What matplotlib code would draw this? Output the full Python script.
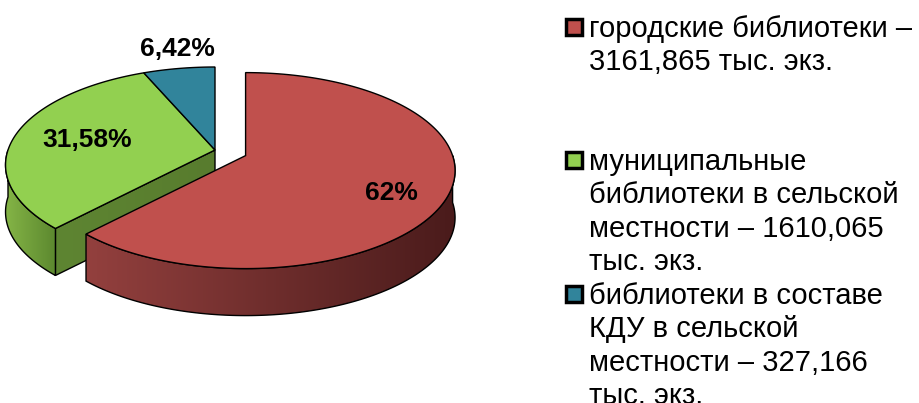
import matplotlib
matplotlib.use('Agg')
import matplotlib.pyplot as plt
from matplotlib.patches import Polygon, Rectangle
import numpy as np

# данные
labels = ['городские библиотеки –\n3161,865 тыс. экз.',
          'муниципальные\nбиблиотеки в сельской\nместности – 1610,065\nтыс. экз.',
          'библиотеки в составе\nКДУ в сельской\nместности – 327,166\nтыс. экз.']
values = [3161.865, 1610.065, 327.166]
pct_labels = ['62%', '31,58%', '6,42%']
top_colors = ['#c0504d', '#92d050', '#31849b']

plt.rcParams['font.family'] = ['Liberation Sans', 'DejaVu Sans']

W, H = 920, 403
fig = plt.figure(figsize=(W / 100, H / 100), dpi=100)
ax = fig.add_axes([0, 0, 1, 1])
ax.set_xlim(0, W)
ax.set_ylim(H, 0)
ax.axis('off')

# геометрия псевдо-3D круга (в пикселях), с лёгкой перспективой
CX, CY = 215, 150
RX, RY = 207, 95.7
PERSP = 0.153
DEPTH = 47
EXPLODE = 0.15

frac = np.array(values) / sum(values)
bounds = [90.0]
for f in frac:
    bounds.append(bounds[-1] - 360 * f)
# угловые интервалы (t_low, t_high) для каждого сектора
spans = [(bounds[i + 1], bounds[i]) for i in range(3)]


def proj(t_deg, r=1.0):
    t = np.radians(t_deg)
    s = -np.sin(t)
    d = 1 - PERSP * s
    return r * RX * np.cos(t) / d, r * RY * s / d


def arc(cx, cy, t1, t2, dy=0, n=150):
    t = np.linspace(t1, t2, n)
    x, y = proj(t)
    return np.column_stack([cx + x, cy + y + dy])


def visible(t1, t2):
    # пересечение с передней половиной [-180, 0] (с учётом сдвигов на 360)
    for k in (-720, -360, 0, 360):
        a, b = max(t1, -180 + k), min(t2, 0 + k)
        if b > a:
            return a, b
    return None


def gradient_fill(poly_xy, c_left, c_right, zorder):
    patch = Polygon(poly_xy, closed=True, facecolor='none', edgecolor='black', lw=1, zorder=zorder + 0.1)
    ax.add_patch(patch)
    x0, x1 = poly_xy[:, 0].min(), poly_xy[:, 0].max()
    y0, y1 = poly_xy[:, 1].min(), poly_xy[:, 1].max()
    c1 = np.array(matplotlib.colors.to_rgb(c_left))
    c2 = np.array(matplotlib.colors.to_rgb(c_right))
    s = np.linspace(0, 1, 256)[None, :, None]
    img = c1 * (1 - s) + c2 * s
    im = ax.imshow(img, extent=(x0, x1, y1, y0), aspect='auto', zorder=zorder, interpolation='bilinear')
    im.set_clip_path(patch)
    ax.set_xlim(0, W)
    ax.set_ylim(H, 0)


side_cols = [('#93403e', '#4a1b1b'), ('#84b446', '#5c882f'), ('#2a6f83', '#1d4f5d')]

# центр каждого сектора (выдвинут только первый)
centers = []
for i, (lo, hi) in enumerate(spans):
    if i == 0:
        dx, dy = proj((lo + hi) / 2, EXPLODE)
        centers.append((CX + dx, CY + dy))
    else:
        centers.append((CX, CY))

# задняя группа: зелёный + синий
z = 1
lo_g = spans[1][1]  # граница с красным сектором
p = arc(CX, CY, lo_g, lo_g, n=1)[0]
face = np.array([[CX, CY], p, p + [0, DEPTH], [CX, CY + DEPTH]])
gradient_fill(face, '#5e8532', '#587c2e', z)
for i in (1, 2):
    lo, hi = spans[i]
    v = visible(lo, hi)
    cx, cy = centers[i]
    if v:
        top = arc(cx, cy, v[0], v[1])
        bot = arc(cx, cy, v[1], v[0], dy=DEPTH)
        gradient_fill(np.vstack([top, bot]), side_cols[i][0], side_cols[i][1], z + 1)
for i in (1, 2):
    lo, hi = spans[i]
    cx, cy = centers[i]
    pts = np.vstack([[cx, cy], arc(cx, cy, lo, hi)])
    ax.add_patch(Polygon(pts, closed=True, facecolor=top_colors[i], edgecolor='black', lw=1, zorder=z + 2))

# передний красный сектор
z = 5
lo, hi = spans[0]
cx, cy = centers[0]
v = visible(lo, hi)
top = arc(cx, cy, v[0], v[1])
bot = arc(cx, cy, v[1], v[0], dy=DEPTH)
gradient_fill(np.vstack([top, bot]), side_cols[0][0], side_cols[0][1], z)
pts = np.vstack([[cx, cy], arc(cx, cy, lo, hi)])
ax.add_patch(Polygon(pts, closed=True, facecolor=top_colors[0], edgecolor='black', lw=1, zorder=z + 2))

# подписи процентов
label_pos = [(391, 193), (87, 140), (177, 49)]
for (x, y), t in zip(label_pos, pct_labels):
    ax.text(x, y, t, ha='center', va='center', fontsize=19, fontweight='bold', zorder=20)

# легенда
leg_y = [29, 162, 296]
line_h = 33.3
for y0, lab, col in zip(leg_y, labels, top_colors):
    ax.add_patch(Rectangle((566, y0 - 10), 16, 16, facecolor=col, edgecolor='black', lw=2.5, zorder=20))
    for k, line in enumerate(lab.split('\n')):
        ax.text(589, y0 + k * line_h, line, ha='left', va='center', fontsize=21, zorder=20)

fig.savefig('out.png', dpi=100)
